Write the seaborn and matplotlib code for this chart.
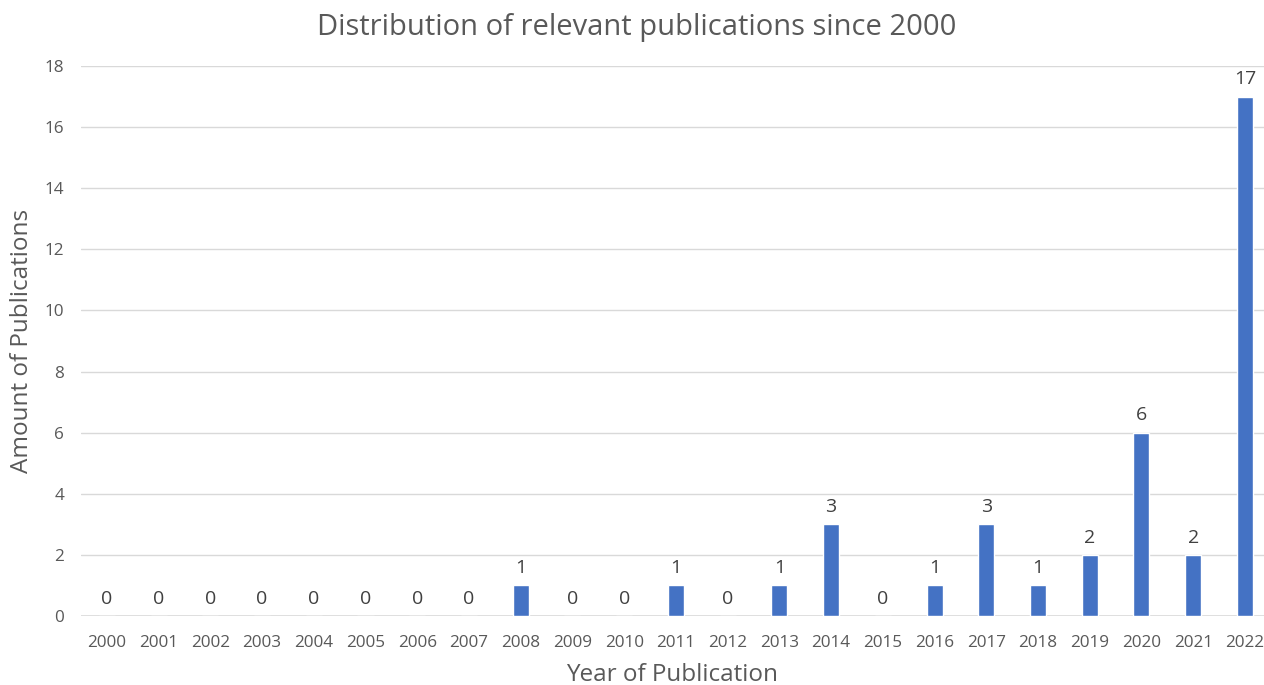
import matplotlib
matplotlib.use("Agg")
import matplotlib.pyplot as plt
import seaborn as sns
import pandas as pd

years = [str(y) for y in range(2000, 2023)]
counts = [0, 0, 0, 0, 0, 0, 0, 0, 1, 0, 0, 1, 0, 1, 3, 0, 1, 3, 1, 2, 6, 2, 17]
y_ticks = [0, 2, 4, 6, 8, 10, 12, 14, 16, 18]

sns.set_theme(style="white")
plt.rcParams['font.family'] = ['Open Sans', 'DejaVu Sans']

gray = "#595959"
df = pd.DataFrame({"year": years, "count": counts})

fig = plt.figure(figsize=(12.64, 6.85), dpi=100)
ax = fig.add_axes([81/1264, (685-616)/685, (1264-81)/1264, (616-66)/685])

sns.barplot(data=df, x="year", y="count", color="#4472C4", width=0.31,
            saturation=1, ax=ax)

ax.set_ylim(0, 18)
ax.set_xlim(-0.5, -0.5 + 1183/51.73)
ax.set_yticks(y_ticks)
ax.set_yticklabels([str(t) for t in y_ticks])
for yv in y_ticks[1:]:
    ax.axhline(yv, color="#D9D9D9", lw=1, zorder=0)
ax.axhline(0, color="#D9D9D9", lw=1.2, zorder=0)

for s in ax.spines.values():
    s.set_visible(False)
ax.tick_params(axis="both", length=0, colors=gray, labelsize=12.3)
ax.tick_params(axis="x", pad=14)
ax.tick_params(axis="y", pad=12)

for i, c in enumerate(counts):
    ax.annotate(str(c), (i, c), xytext=(0, 6), textcoords="offset points",
                ha="center", va="bottom", fontsize=14, color="#404040")

ax.set_xlabel("Year of Publication", fontsize=17.5, color=gray, labelpad=8)
ax.set_ylabel("Amount of Publications", fontsize=17.5, color=gray, labelpad=8)
fig.text(637/1264, 1 - 27/685, "Distribution of relevant publications since 2000",
         ha="center", va="center", fontsize=21, color=gray)

fig.savefig("out.png", dpi=100)
